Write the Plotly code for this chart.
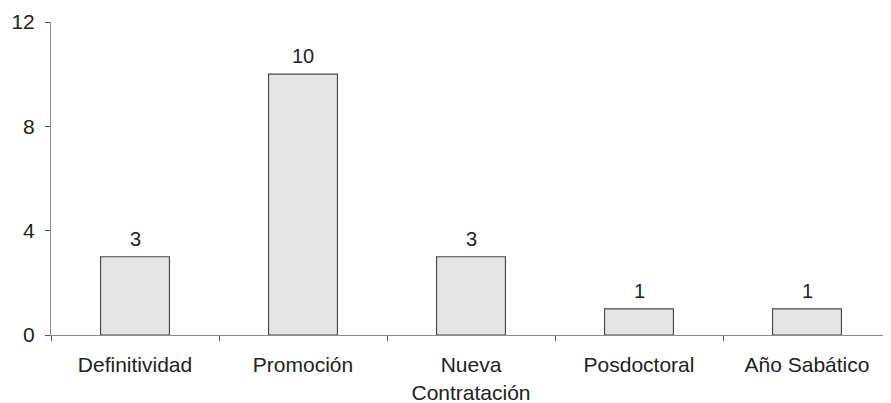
import plotly.graph_objects as go

categories = ["Definitividad", "Promoción", "Nueva<br>Contratación", "Posdoctoral", "Año Sabático"]
values = [3, 10, 3, 1, 1]
y_ticks = [0, 4, 8, 12]

FONT = "Liberation Sans, Arial, sans-serif"

fig = go.Figure()
fig.add_trace(go.Bar(
    x=categories,
    y=values,
    width=0.41,
    marker=dict(color="#e5e5e5", line=dict(color="#4a4a4a", width=1.2)),
))

for c, v in zip(categories, values):
    fig.add_annotation(
        x=c, y=v, text=str(v), showarrow=False,
        yanchor="bottom", yshift=5,
        font=dict(family=FONT, size=20, color="#222"),
    )

fig.update_layout(
    width=883, height=395,
    margin=dict(l=43, r=0, t=14, b=68),
    paper_bgcolor="white",
    plot_bgcolor="white",
    showlegend=False,
    font=dict(family=FONT, size=20, color="#222"),
)
fig.update_xaxes(
    showline=True, linecolor="#8c8c8c", linewidth=1,
    ticks="outside", tickson="boundaries", ticklen=5, tickcolor="#555",
    showgrid=False, tickfont=dict(size=21),
    ticklabelstandoff=11,
)
fig.update_yaxes(
    range=[0, 12], tickvals=y_ticks,
    showline=True, linecolor="#8c8c8c", linewidth=1,
    ticks="outside", ticklen=5, tickcolor="#555",
    showgrid=False, zeroline=False, tickfont=dict(size=21),
    ticklabelstandoff=6,
)

fig.write_html("out.html")
